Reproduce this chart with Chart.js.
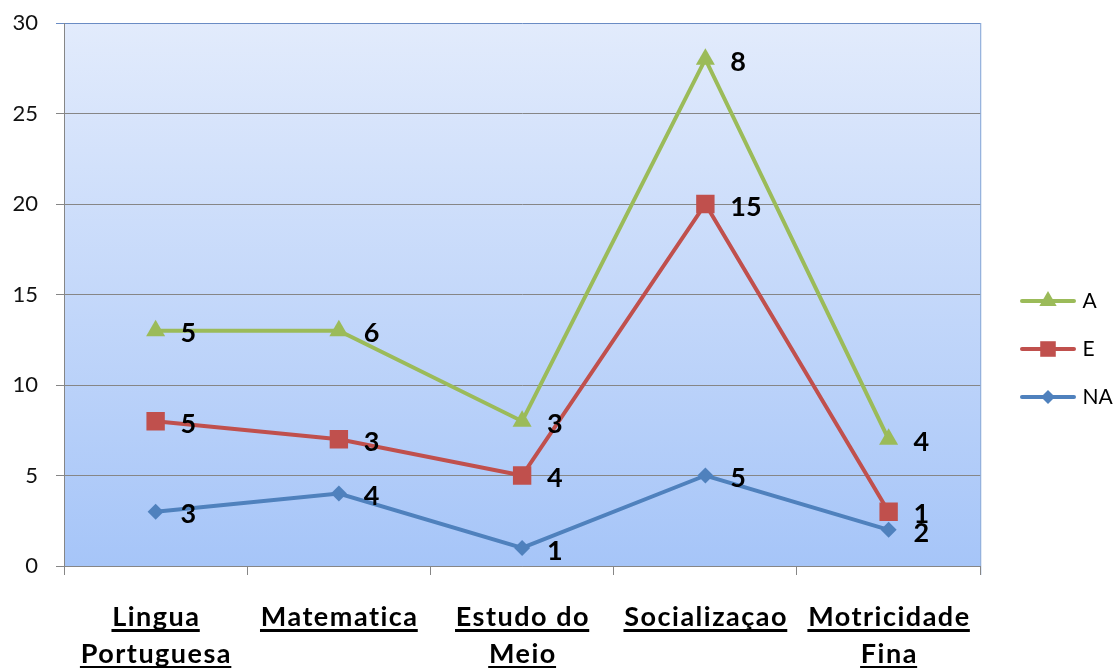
<!DOCTYPE html>
<html>
<head>
<meta charset="utf-8">
<script src="https://cdn.jsdelivr.net/npm/chart.js@4.4.1/dist/chart.umd.min.js"></script>
<style>
  html, body { margin: 0; padding: 0; background: #fff; }
  #wrap { width: 1113px; height: 668px; }
</style>
</head>
<body>
<div id="wrap"><canvas id="chart"></canvas></div>
<script>
// data
const categories = [['Lingua', 'Portuguesa'], ['Matematica'], ['Estudo do', 'Meio'], ['Socializaçao'], ['Motricidade', 'Fina']];
const naValues = [3, 4, 1, 5, 2];
const eValues = [5, 3, 4, 15, 1];
const aValues = [5, 6, 3, 8, 4];
const yTicks = [0, 5, 10, 15, 20, 25, 30];

const GREEN = '#9bbb59', RED = '#c0504d', BLUE = '#4f81bd';

// legend icon: line with the marker in the middle
function legendIcon(color, style, radius) {
    const c = document.createElement('canvas');
    c.width = 56; c.height = 26;
    const g = c.getContext('2d');
    g.strokeStyle = color; g.lineWidth = 4; g.lineCap = 'round';
    g.beginPath(); g.moveTo(2, 13); g.lineTo(54, 13); g.stroke();
    g.fillStyle = color;
    Chart.helpers.drawPoint(g, { pointStyle: style, radius: radius, rotation: 0, borderWidth: 0 }, 28, 13);
    return c;
}
const icons = [legendIcon(BLUE, 'rectRot', 7), legendIcon(RED, 'rect', 11), legendIcon(GREEN, 'triangle', 10)];

// plot area gradient + right border
const plotBg = {
    id: 'plotBg',
    beforeDraw(chart) {
        const { ctx, chartArea: a } = chart;
        const grad = ctx.createLinearGradient(0, a.top, 0, a.bottom);
        grad.addColorStop(0, '#e2ebfc');
        grad.addColorStop(1, '#a6c5f8');
        ctx.save();
        ctx.fillStyle = grad;
        ctx.fillRect(a.left, a.top, a.right - a.left, a.bottom - a.top);
        ctx.strokeStyle = '#7b9fd4';
        ctx.lineWidth = 1;
        ctx.beginPath();
        ctx.moveTo(a.right + 0.5, a.top);
        ctx.lineTo(a.right + 0.5, a.bottom + 9);
        ctx.stroke();
        ctx.restore();
    }
};

// value labels next to each point
const valueLabels = {
    id: 'valueLabels',
    afterDatasetsDraw(chart) {
        const ctx = chart.ctx;
        ctx.save();
        ctx.font = 'bold 27px Lato';
        ctx.fillStyle = '#000';
        ctx.textAlign = 'left';
        ctx.textBaseline = 'middle';
        chart.data.datasets.forEach((ds, i) => {
            chart.getDatasetMeta(i).data.forEach((pt, j) => {
                ctx.fillText(String(ds.data[j]), pt.x + 25, pt.y + 3);
            });
        });
        ctx.restore();
    }
};

// underlined bold category labels
const xLabels = {
    id: 'xLabels',
    afterDraw(chart) {
        const ctx = chart.ctx, xs = chart.scales.x, bottom = chart.chartArea.bottom;
        ctx.save();
        ctx.font = 'bold 27px Lato';
        ctx.letterSpacing = '1.5px';
        ctx.fillStyle = '#000';
        ctx.textAlign = 'center';
        ctx.textBaseline = 'alphabetic';
        categories.forEach((lines, i) => {
            const x = xs.getPixelForValue(i);
            lines.forEach((line, k) => {
                const y = bottom + 60 + k * 37;
                const w = ctx.measureText(line).width;
                ctx.fillText(line, x + 0.75, y);
                ctx.fillRect(x - w / 2, y + 3, w, 3);
            });
        });
        ctx.restore();
    }
};

// put the legend where Excel put it
const legendShift = {
    id: 'legendShift',
    afterLayout(chart) {
        const l = chart.legend;
        const dx = 997 - l.left;
        l.left += dx; l.right += dx;
        l.top += 50; l.bottom += 50;
    }
};

new Chart(document.getElementById('chart'), {
    type: 'line',
    data: {
        labels: categories.map(c => c.join(' ')),
        datasets: [{
            label: 'NA',
            data: naValues,
            borderColor: BLUE,
            backgroundColor: BLUE,
            borderWidth: 4,
            pointStyle: 'rectRot',
            pointRadius: 8,
            pointBorderWidth: 0,
            fill: false
        }, {
            label: 'E',
            data: eValues,
            borderColor: RED,
            backgroundColor: RED,
            borderWidth: 4,
            pointStyle: 'rect',
            pointRadius: 13,
            pointBorderWidth: 0,
            fill: false
        }, {
            label: 'A',
            data: aValues,
            borderColor: GREEN,
            backgroundColor: GREEN,
            borderWidth: 4,
            pointStyle: 'triangle',
            pointRadius: 11,
            pointBorderWidth: 0,
            fill: false
        }]
    },
    options: {
        responsive: true,
        maintainAspectRatio: false,
        animation: false,
        layout: { padding: { top: 23, left: 0, bottom: 93, right: 7 } },
        plugins: {
            legend: {
                position: 'right',
                reverse: true,
                labels: {
                    usePointStyle: true,
                    pointStyleWidth: 48,
                    padding: 27,
                    color: '#000',
                    font: { family: 'Lato', size: 21 },
                    generateLabels(chart) {
                        const items = Chart.defaults.plugins.legend.labels.generateLabels(chart);
                        items.forEach(it => { it.pointStyle = icons[it.datasetIndex]; });
                        return items;
                    }
                }
            },
            tooltip: { enabled: false }
        },
        scales: {
            x: {
                offset: true,
                ticks: { display: false },
                grid: { offset: true, drawOnChartArea: false, drawTicks: true, tickLength: 9, color: '#868686' },
                border: { color: '#868686' }
            },
            y: {
                stacked: true,
                min: 0,
                max: 30,
                afterBuildTicks(scale) { scale.ticks = yTicks.map(v => ({ value: v })); },
                afterFit(scale) { scale.width = 64; scale.paddingTop = 0; scale.paddingBottom = 0; },
                ticks: { padding: 18, color: '#111', font: { family: 'Lato', size: 22, lineHeight: 1 } },
                grid: {
                    tickLength: 8,
                    color: ctx => (ctx.tick && ctx.tick.value === 30) ? '#6a8cc4' : '#868686'
                },
                border: { color: '#868686' }
            }
        }
    },
    plugins: [plotBg, valueLabels, xLabels, legendShift]
});
</script>
</body>
</html>
